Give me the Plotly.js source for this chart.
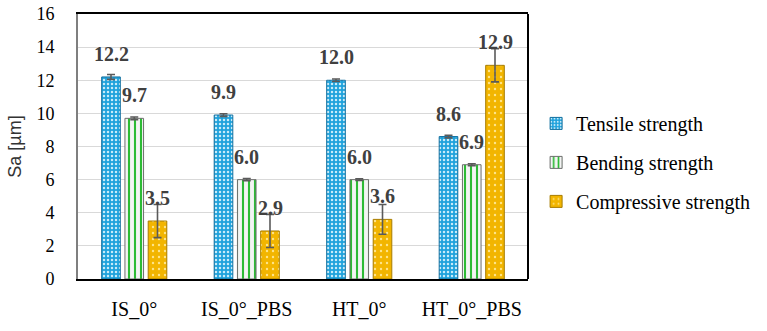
<!DOCTYPE html>
<html>
<head>
<meta charset="utf-8">
<script src="https://cdn.plot.ly/plotly-3.0.1.min.js"></script>
<style>
  html, body { margin: 0; padding: 0; background: #fff; }
  #chart { width: 767px; height: 331px; }
</style>
</head>
<body>
<div id="chart"></div>
<script>
// Surface roughness Sa per specimen group and test type
const categories = ['IS_0°', 'IS_0°_PBS', 'HT_0°', 'HT_0°_PBS'];
const seriesNames = ['Tensile strength', 'Bending strength', 'Compressive strength'];
const tensile = [12.2, 9.9, 12.0, 8.6];
const bending = [9.7, 6.0, 6.0, 6.9];
const compressive = [3.5, 2.9, 3.6, 12.9];
const tensileErr = [0.15, 0.08, 0.08, 0.08];
const bendingErr = [0.08, 0.07, 0.05, 0.06];
const compressiveErr = [1.0, 1.0, 0.9, 1.0];
const yTicks = [0, 2, 4, 6, 8, 10, 12, 14, 16];

const serif = '"Liberation Serif", "Times New Roman", serif';
const BARGAP = 0.38;
const GROUPGAP = 0.2;

const styles = [
  { color: '#1FA2DC', line: '#136F9E', pattern: { shape: '.', fgcolor: '#C8ECFA', bgcolor: '#1FA2DC', size: 4, solidity: 0.3 } },
  { color: '#FFFFFF', line: '#6E6E6E', pattern: { shape: '|', fgcolor: '#2DBB35', bgcolor: '#F4F4F4', size: 6, solidity: 0.35 } },
  { color: '#F2B500', line: '#A77C00', pattern: { shape: '.', fgcolor: '#FFE58A', bgcolor: '#F2B500', size: 6, solidity: 0.12 } }
];
const values = [tensile, bending, compressive];
const errors = [tensileErr, bendingErr, compressiveErr];

const traces = values.map((vals, i) => ({
  type: 'bar',
  name: seriesNames[i],
  x: categories,
  y: vals,
  legendgroup: 'g' + i,
  marker: {
    color: styles[i].color,
    line: { color: styles[i].line, width: 1 },
    pattern: styles[i].pattern
  },
  error_y: {
    type: 'data',
    array: errors[i],
    visible: true,
    color: '#5A5A5A',
    thickness: 1.6,
    width: 4
  },
  hoverinfo: 'none'
}));

// value labels centred over each bar
const slot = (1 - BARGAP) / 3;
const annotations = [];
values.forEach((vals, i) => {
  vals.forEach((v, j) => {
    annotations.push({
      x: j + (i - 1) * slot,
      y: v,
      xref: 'x', yref: 'y',
      text: v.toFixed(1),
      showarrow: false,
      yanchor: 'middle',
      yshift: 23,
      font: { family: serif, size: 20, color: '#404040', weight: 'bold' }
    });
  });
});

const layout = {
  width: 767,
  height: 331,
  margin: { l: 78, r: 237, t: 14, b: 52 },
  paper_bgcolor: '#FFFFFF',
  plot_bgcolor: '#FFFFFF',
  font: { family: serif, color: '#000000' },
  barmode: 'group',
  bargap: BARGAP,
  bargroupgap: GROUPGAP,
  showlegend: true,
  legend: {
    x: 1.018, xanchor: 'left',
    y: 0.44, yanchor: 'middle',
    font: { family: serif, size: 20, color: '#000000' },
    tracegroupgap: 10,
    itemwidth: 30,
    bgcolor: 'rgba(0,0,0,0)'
  },
  xaxis: {
    type: 'category',
    showline: true,
    linecolor: '#000000',
    linewidth: 2,
    mirror: true,
    ticks: '',
    ticklabelstandoff: 11,
    tickfont: { family: serif, size: 20, color: '#000000' },
    showgrid: false,
    zeroline: false,
    fixedrange: true
  },
  yaxis: {
    range: [0, 16],
    tickvals: yTicks,
    ticktext: yTicks.map(String),
    showline: true,
    linecolor: '#7F7F7F',
    linewidth: 2,
    ticks: '',
    ticklabelstandoff: 18,
    tickfont: { family: serif, size: 18, color: '#000000' },
    showgrid: true,
    gridcolor: '#D9D9D9',
    gridwidth: 1,
    zeroline: false,
    title: { text: 'Sa [µm]', font: { family: '"Liberation Sans", Arial, sans-serif', size: 18, color: '#333333' }, standoff: 10 },
    fixedrange: true
  },
  shapes: [
    { type: 'line', xref: 'paper', yref: 'paper', x0: 1, x1: 1, y0: 0, y1: 1, line: { color: '#000000', width: 2 } }
  ],
  annotations: annotations
};

Plotly.newPlot('chart', traces, layout, { displayModeBar: false, staticPlot: true });
</script>
</body>
</html>
